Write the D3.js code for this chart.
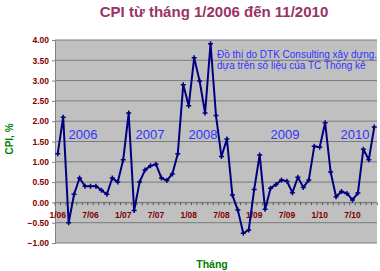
<!DOCTYPE html>
<html>
<head>
<meta charset="utf-8">
<script src="https://cdn.jsdelivr.net/npm/d3@7"></script>
<style>
  body { margin: 0; background: #fff; }
  svg { display: block; font-family: Arial, "Liberation Sans", sans-serif; }
</style>
</head>
<body>
<svg id="chart" width="380" height="271"></svg>
<script>
// monthly CPI change, %, 1/2006 .. 11/2010
const years = [2006, 2007, 2008, 2009, 2010]
const cpi2006 = [1.20, 2.10, -0.50, 0.20, 0.60, 0.40, 0.40, 0.40, 0.30, 0.20, 0.60, 0.50]
const cpi2007 = [1.05, 2.20, -0.20, 0.50, 0.80, 0.90, 0.94, 0.60, 0.54, 0.70, 1.20, 2.90]
const cpi2008 = [2.38, 3.56, 2.99, 2.20, 3.91, 2.14, 1.13, 1.56, 0.18, -0.19, -0.76, -0.68]
const cpi2009 = [0.32, 1.17, -0.17, 0.35, 0.44, 0.55, 0.52, 0.24, 0.62, 0.37, 0.55, 1.38]
const cpi2010 = [1.36, 1.96, 0.75, 0.14, 0.27, 0.22, 0.06, 0.23, 1.31, 1.05, 1.86]
const yTicks = [-1, -0.5, 0, 0.5, 1, 1.5, 2, 2.5, 3, 3.5, 4]
const xTickLabels = ["1/06", "7/06", "1/07", "7/07", "1/08", "7/08", "1/09", "7/09", "1/10", "7/10"]

const series = [cpi2006, cpi2007, cpi2008, cpi2009, cpi2010]
let data = []
series.forEach((arr, k) => {
    arr.forEach((v, i) => {
        data.push({ label: (i + 1) + "/" + String(years[k]).slice(2), value: v })
    })
})

const svg = d3.select("#chart")
const plotL = 55, plotR = 377, plotT = 40, plotB = 243

const x = d3.scaleBand()
    .domain(data.map(d => d.label))
    .range([plotL, plotR])

const y = d3.scaleLinear()
    .domain([-1, 4])
    .range([plotB, plotT])

// title
svg.append("text")
    .attr("x", 214).attr("y", 17)
    .attr("text-anchor", "middle")
    .attr("font-size", 15)
    .attr("font-weight", "bold")
    .attr("fill", "#993366")
    .text("CPI từ tháng 1/2006 đến 11/2010")

// plot area
svg.append("rect")
    .attr("x", plotL).attr("y", plotT)
    .attr("width", plotR - plotL).attr("height", plotB - plotT)
    .attr("fill", "#c0c0c0")

// gridlines
svg.append("g")
    .selectAll("line")
    .data(yTicks)
    .join("line")
    .attr("x1", plotL).attr("x2", plotR)
    .attr("y1", d => y(d)).attr("y2", d => y(d))
    .attr("stroke", "#7a7a7a")
    .attr("stroke-width", 1)

// y axis
const yAxis = d3.axisLeft(y)
    .tickValues(yTicks)
    .tickFormat(d3.format(".2f"))
    .tickSize(3)
svg.append("g")
    .attr("transform", `translate(${plotL},0)`)
    .call(yAxis)
    .call(g => g.select(".domain").attr("stroke", "#808080"))
    .call(g => g.selectAll(".tick line").attr("stroke", "#808080"))
    .call(g => g.selectAll("text")
        .attr("fill", "#800000")
        .attr("font-weight", "bold")
        .attr("font-size", 8.5)
        .attr("font-family", "Arial, 'Liberation Sans', sans-serif"))

// x axis at zero
const xAxis = d3.axisBottom(x)
    .tickValues(data.map(d => d.label))
    .tickFormat(d => xTickLabels.includes(d) ? d : "")
    .tickSize(3)
const xg = svg.append("g")
    .attr("transform", `translate(0,${y(0)})`)
    .call(xAxis)
xg.select(".domain").attr("stroke", "#808080")
xg.selectAll(".tick line")
    .attr("stroke", "#606060")
    .attr("transform", `translate(${-x.bandwidth() / 2},0)`)
xg.selectAll("text")
    .attr("y", 10)
    .attr("fill", "#800000")
    .attr("font-weight", "bold")
    .attr("font-size", 8.5)
    .attr("font-family", "Arial, 'Liberation Sans', sans-serif")

// line
const line = d3.line()
    .x(d => x(d.label) + x.bandwidth() / 2)
    .y(d => y(d.value))

svg.append("path")
    .datum(data)
    .attr("d", line)
    .attr("fill", "none")
    .attr("stroke", "#000080")
    .attr("stroke-width", 2)
    .attr("stroke-linejoin", "round")

svg.append("g")
    .selectAll("path")
    .data(data)
    .join("path")
    .attr("transform", d => `translate(${x(d.label) + x.bandwidth() / 2},${y(d.value)})`)
    .attr("d", "M-2.5,0H2.5M0,-2.5V2.5")
    .attr("stroke", "#000080")
    .attr("stroke-width", 1.5)

// year labels
const yearPos = [83, 150, 203, 285, 355]
svg.append("g")
    .selectAll("text")
    .data(years)
    .join("text")
    .attr("x", (d, i) => yearPos[i])
    .attr("y", 139)
    .attr("text-anchor", "middle")
    .attr("font-size", 13)
    .attr("fill", "#3333ff")
    .text(d => d)

// note
svg.append("text")
    .attr("x", 217).attr("y", 58)
    .attr("font-size", 10)
    .attr("fill", "#3333ff")
    .text("Đồ thị do DTK Consulting xây dựng.")
svg.append("text")
    .attr("x", 217).attr("y", 69)
    .attr("font-size", 10)
    .attr("fill", "#3333ff")
    .text("dựa trên số liệu của TC Thống kê")

// axis titles
svg.append("text")
    .attr("transform", "translate(13,139) rotate(-90)")
    .attr("text-anchor", "middle")
    .attr("font-size", 10)
    .attr("font-weight", "bold")
    .attr("fill", "#008000")
    .text("CPI, %")

svg.append("text")
    .attr("x", 212).attr("y", 268)
    .attr("text-anchor", "middle")
    .attr("font-size", 10.5)
    .attr("font-weight", "bold")
    .attr("fill", "#008000")
    .text("Tháng")
</script>
</body>
</html>
